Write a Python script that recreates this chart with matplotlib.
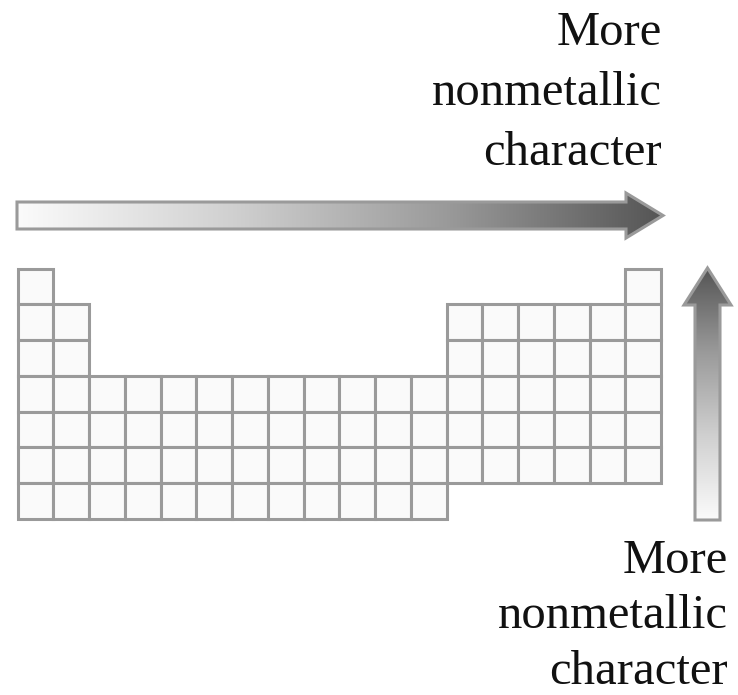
import numpy as np
import matplotlib.pyplot as plt
from matplotlib.patches import Rectangle, Polygon

# periodic table outline: occupied group columns per period (1-based)
period_columns = [
    [1, 18],
    [1, 2] + list(range(13, 19)),
    [1, 2] + list(range(13, 19)),
    list(range(1, 19)),
    list(range(1, 19)),
    list(range(1, 19)),
    list(range(1, 13)),
]
label_lines = ["More", "nonmetallic", "character"]

W, H = 738, 695
fig = plt.figure(figsize=(W / 100, H / 100), dpi=100)
ax = fig.add_axes([0, 0, 1, 1])
ax.set_xlim(0, W)
ax.set_ylim(H, 0)
ax.axis("off")

x0, y0, cell = 17.5, 268.5, 35.75
edge = "#9a9a9a"
for r, cols in enumerate(period_columns):
    for c in cols:
        ax.add_patch(Rectangle((x0 + (c - 1) * cell, y0 + r * cell), cell, cell,
                               facecolor="#fafafa", edgecolor=edge, lw=2.2))

cmap = plt.matplotlib.colors.LinearSegmentedColormap.from_list(
    "g", ["#fbfbfb", "#d0d0d0", "#9a9a9a", "#555555"])


def grad_arrow(pts, extent, horizontal):
    poly = Polygon(pts, closed=True, facecolor="none", edgecolor=edge, lw=2.2, zorder=3)
    ax.add_patch(poly)
    g = np.linspace(0, 1, 256)
    img = g[None, :] if horizontal else g[:, None]
    im = ax.imshow(img, cmap=cmap, extent=extent, aspect="auto", zorder=2,
                   interpolation="bilinear")
    im.set_clip_path(poly)


# horizontal arrow
grad_arrow([(17, 202), (626, 202), (626, 193), (663, 215.5), (626, 238),
            (626, 229), (17, 229)], (17, 663, 238, 193), True)
# vertical arrow
grad_arrow([(695, 520), (695, 305), (684, 305), (707.5, 268), (731, 305),
            (720, 305), (720, 520)], (684, 731, 268, 520), False)

font = dict(family="Liberation Serif", fontsize=35, color="#111111", ha="right",
            va="baseline")
for i, line in enumerate(label_lines):
    ax.text(662, 45 + i * 60, line, **font)
    ax.text(728, 573 + i * 55.5, line, **font)

fig.savefig("out.png", dpi=100)
